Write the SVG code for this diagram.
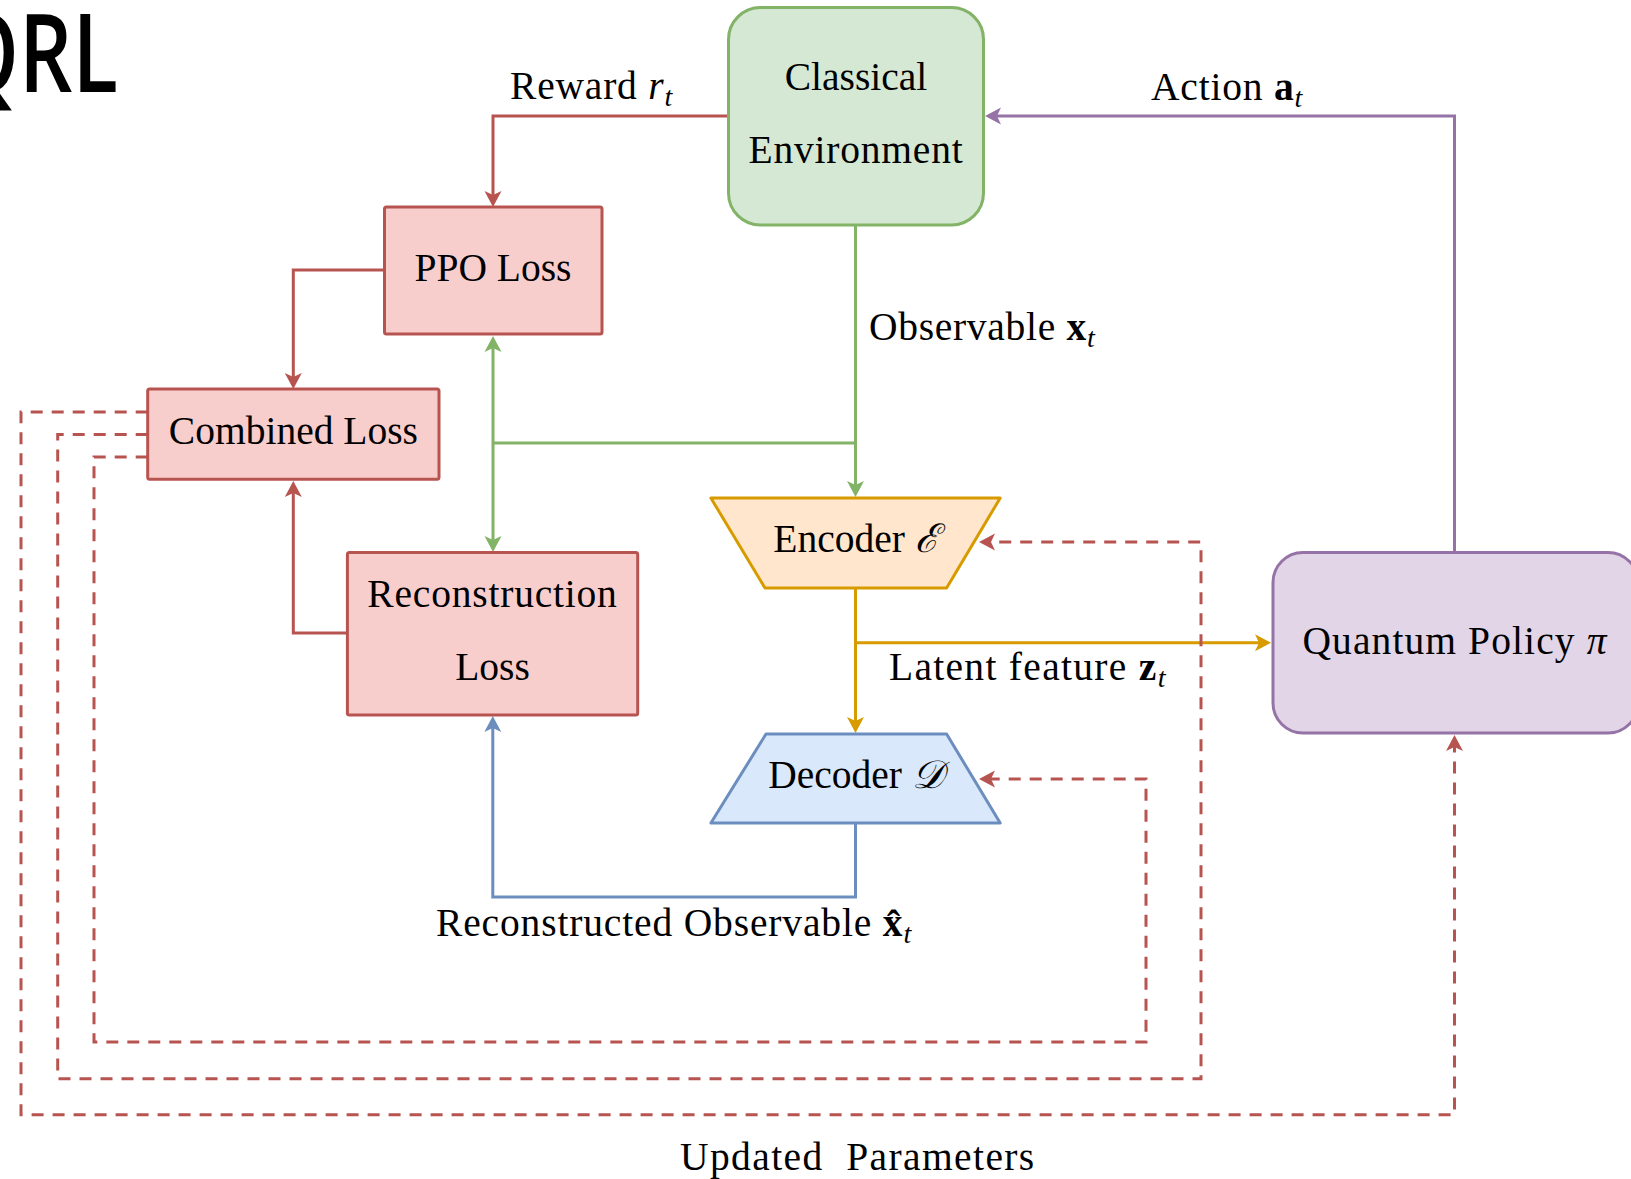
<svg xmlns="http://www.w3.org/2000/svg" width="1631" height="1179" viewBox="0 0 1631 1179">
  <defs>
    <style>
      .lbl { font-family: "Liberation Serif", "Times New Roman", serif; font-size: 39.5px; fill: #000; }
      .ctr { text-anchor: middle; }
      .it { font-style: italic; }
      .bf { font-weight: bold; }
      .sub { font-size: 28px; font-style: italic; }
      .title { font-family: "Open Sans", "Liberation Sans", sans-serif; font-size: 108px; font-weight: 600; fill: #000; }
      .edge { fill: none; stroke-width: 3; stroke-linejoin: miter; }
      .red { stroke: #b85450; }
      .green { stroke: #82b366; }
      .orange { stroke: #d79b00; }
      .blue { stroke: #6c8ebf; }
      .purple { stroke: #9673a6; }
      .dash { stroke-dasharray: 12 9; }
      .node { stroke-width: 3; }
    </style>
    <marker id="arr-red" markerUnits="userSpaceOnUse" markerWidth="30" markerHeight="30" refX="0" refY="0" viewBox="-15 -15 30 30" orient="auto" overflow="visible">
      <path d="M7,0 L-9,-8.5 L-5,0 L-9,8.5 Z" fill="#b85450"/>
    </marker>
    <marker id="arr-green" markerUnits="userSpaceOnUse" markerWidth="30" markerHeight="30" refX="0" refY="0" viewBox="-15 -15 30 30" orient="auto" overflow="visible">
      <path d="M7,0 L-9,-8.5 L-5,0 L-9,8.5 Z" fill="#82b366"/>
    </marker>
    <marker id="arr-orange" markerUnits="userSpaceOnUse" markerWidth="30" markerHeight="30" refX="0" refY="0" viewBox="-15 -15 30 30" orient="auto" overflow="visible">
      <path d="M7,0 L-9,-8.5 L-5,0 L-9,8.5 Z" fill="#d79b00"/>
    </marker>
    <marker id="arr-blue" markerUnits="userSpaceOnUse" markerWidth="30" markerHeight="30" refX="0" refY="0" viewBox="-15 -15 30 30" orient="auto" overflow="visible">
      <path d="M7,0 L-9,-8.5 L-5,0 L-9,8.5 Z" fill="#6c8ebf"/>
    </marker>
    <marker id="arr-purple" markerUnits="userSpaceOnUse" markerWidth="30" markerHeight="30" refX="0" refY="0" viewBox="-15 -15 30 30" orient="auto" overflow="visible">
      <path d="M7,0 L-9,-8.5 L-5,0 L-9,8.5 Z" fill="#9673a6"/>
    </marker>
  </defs>

  <rect width="1631" height="1179" fill="#ffffff"/>

  <!-- heading, partly off the left edge -->
  <text class="title" x="118" y="92" text-anchor="end" textLength="165" lengthAdjust="spacingAndGlyphs">QRL</text>

  <!-- connectors -->
  <g id="connectors">
    <!-- reward -->
    <path class="edge red" d="M728.5,116 H493 V200" marker-end="url(#arr-red)"/>
    <!-- PPO loss to combined loss -->
    <path class="edge red" d="M384.5,270 H293.3 V382" marker-end="url(#arr-red)"/>
    <!-- reconstruction loss to combined loss -->
    <path class="edge red" d="M347.4,633 H293.3 V488" marker-end="url(#arr-red)"/>
    <!-- observable -->
    <path class="edge green" d="M855.5,225 V490" marker-end="url(#arr-green)"/>
    <path class="edge green" d="M855.5,443 H493"/>
    <path class="edge green" d="M493,443 V343" marker-end="url(#arr-green)"/>
    <path class="edge green" d="M493,443 V545" marker-end="url(#arr-green)"/>
    <!-- latent feature -->
    <path class="edge orange" d="M855.5,588 V726" marker-end="url(#arr-orange)"/>
    <path class="edge orange" d="M855.5,642.7 H1264" marker-end="url(#arr-orange)"/>
    <!-- reconstructed observable -->
    <path class="edge blue" d="M855.5,823 V897 H492.8 V723" marker-end="url(#arr-blue)"/>
    <!-- action -->
    <path class="edge purple" d="M1454.5,552.5 V116 H992" marker-end="url(#arr-purple)"/>
    <!-- parameter updates -->
    <path class="edge red dash" d="M147.7,412 H21 V1114.7 H1454.5 V742" marker-end="url(#arr-red)"/>
    <path class="edge red dash" d="M147.7,434.5 H57.7 V1078.7 H1201 V542 H986" marker-end="url(#arr-red)"/>
    <path class="edge red dash" d="M147.7,457 H94 V1042 H1146 V779 H986" marker-end="url(#arr-red)"/>
  </g>

  <!-- edge labels -->
  <g id="edge-labels">
    <text class="lbl" x="510" y="99" letter-spacing="0.8">Reward <tspan class="it">r</tspan><tspan class="sub" dy="7">t</tspan></text>
    <text class="lbl" x="1151" y="100" letter-spacing="0.8">Action <tspan class="bf">a</tspan><tspan class="sub" dy="7">t</tspan></text>
    <text class="lbl" x="869" y="340" letter-spacing="0.7">Observable <tspan class="bf">x</tspan><tspan class="sub" dy="7">t</tspan></text>
    <text class="lbl" x="889" y="680" letter-spacing="1.3">Latent feature <tspan class="bf">z</tspan><tspan class="sub" dy="7">t</tspan></text>
    <text class="lbl" x="436" y="936" letter-spacing="0.85">Reconstructed Observable <tspan class="bf">x̂</tspan><tspan class="sub" dy="7">t</tspan></text>
    <text class="lbl" x="680" y="1170" letter-spacing="1.4">Updated&#160; Parameters</text>
  </g>

  <g id="classical-environment">
    <rect class="node" x="728.5" y="7.5" width="255" height="217.5" rx="32" fill="#d5e8d4" stroke="#82b366"/>
    <text class="lbl ctr" x="856" y="90">Classical</text>
    <text class="lbl ctr" x="856" y="163" letter-spacing="0.8">Environment</text>
  </g>

  <g id="ppo-loss">
    <rect class="node" x="384.5" y="207" width="217.5" height="127" rx="2" fill="#f8cecc" stroke="#b85450"/>
    <text class="lbl ctr" x="493" y="281">PPO Loss</text>
  </g>

  <g id="combined-loss">
    <rect class="node" x="147.7" y="389" width="291.3" height="90.3" rx="2" fill="#f8cecc" stroke="#b85450"/>
    <text class="lbl ctr" x="293.4" y="444">Combined Loss</text>
  </g>

  <g id="reconstruction-loss">
    <rect class="node" x="347.4" y="552.5" width="290.3" height="162.5" rx="2" fill="#f8cecc" stroke="#b85450"/>
    <text class="lbl ctr" x="492.5" y="607" letter-spacing="0.8">Reconstruction</text>
    <text class="lbl ctr" x="492.5" y="680">Loss</text>
  </g>

  <g id="encoder">
    <polygon class="node" points="710.9,498 1000.2,498 946.6,588 765,588" fill="#ffe6cc" stroke="#d79b00" stroke-linejoin="round"/>
    <text class="lbl ctr" x="856" y="552">Encoder <tspan class="it">ℰ</tspan></text>
  </g>

  <g id="decoder">
    <polygon class="node" points="766,734 946.6,734 1000.2,823 710.9,823" fill="#dae8fc" stroke="#6c8ebf" stroke-linejoin="round"/>
    <text class="lbl ctr" x="856" y="788">Decoder <tspan class="it">𝒟</tspan></text>
  </g>

  <g id="quantum-policy">
    <rect class="node" x="1273" y="552.5" width="365" height="180.5" rx="30" fill="#e1d5e7" stroke="#9673a6"/>
    <text class="lbl ctr" x="1455" y="654" letter-spacing="1.1">Quantum Policy <tspan class="it">π</tspan></text>
  </g>
</svg>
